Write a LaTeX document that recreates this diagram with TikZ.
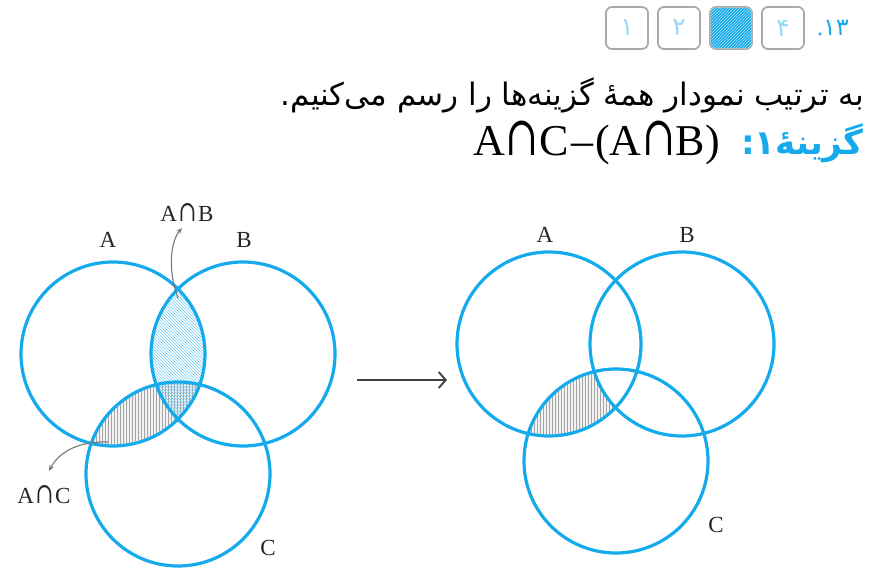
\documentclass[tikz,border=0pt]{standalone}
\usepackage{fontspec}
\usepackage{graphicx}
\setmainfont{Liberation Serif}
\newfontfamily\arabicfont[Script=Arabic]{DejaVu Sans}
\newfontfamily\capfont{DejaVu Serif}
\newcommand\tcap{\kern0.06em\raisebox{0pt}{\scalebox{0.95}[1.25]{\capfont ∩}}\kern0.06em}
\newcommand\tcapx{\kern0.01em\raisebox{0pt}{\scalebox{0.9}[1.25]{\capfont ∩}}\kern0.01em}
\TeXXeTstate=1
\usetikzlibrary{patterns,arrows.meta}
\definecolor{vcyan}{RGB}{20,170,235}
\definecolor{hatchgray}{RGB}{165,165,165}
\definecolor{arrowgray}{RGB}{120,120,120}
\definecolor{boxgray}{RGB}{170,170,170}
\begin{document}
\begin{tikzpicture}[x=1pt,y=-1pt,
  setc/.style={draw=vcyan,line width=3.2pt},
  lbl/.style={font=\fontsize{23}{25}\selectfont, inner sep=0pt, text=black!85},
  pointer/.style={draw=arrowgray, line width=1.1pt, -{Stealth[length=6pt,width=5pt]}},
  optbox/.style={draw=boxgray, line width=1.8pt, rounded corners=6pt, minimum size=42pt, inner sep=0pt, text=vcyan!45, font=\arabicfont\fontsize{25}{26}\selectfont},
  bigarrow/.style={draw=black!75, line width=1.9pt, -{Straight Barb[length=7pt,width=16pt,line width=1.9pt]}}
]
\useasboundingbox (0,0) rectangle (873,580);

% ---------- header ----------
\node[optbox] (o1) at (627,28) {۱};
\node[optbox] (o2) at (679,28) {۲};
\node[optbox, fill=vcyan, postaction={pattern=north east lines, pattern color=white!65!vcyan}] (o3) at (731,28) {};
\node[optbox] (o4) at (783,28) {۴};
\node[text=vcyan, font=\fontsize{24}{26}\selectfont, anchor=east, inner sep=0pt] (num) at (849,28) {.\arabicfont ۱۳};

\node[anchor=east, inner sep=0pt, font=\arabicfont\fontsize{31}{34}\selectfont] (line2) at (864,95)
  {\beginR به ترتیب نمودار همهٔ گزینه‌ها را رسم می‌کنیم.\endR};
\node[anchor=east, inner sep=0pt, text=vcyan, font=\arabicfont\bfseries\fontsize{34}{36}\selectfont] (opt) at (864,143)
  {\beginR گزینهٔ۱:\endR};
\node[anchor=east, inner sep=0pt, font=\fontsize{44}{48}\selectfont] (expr) at (720,143)
  {A\tcapx C\kern0.05em–\kern0.05em(A\tcapx B)};

% ---------- left diagram ----------
\coordinate (LA) at (113,354);
\coordinate (LB) at (243,354);
\coordinate (LC) at (178,474);

\begin{scope}
  \clip (LA) circle[radius=92pt];
  \clip (LC) circle[radius=92pt];
  \fill[gray!10] (LC) circle[radius=92pt];
  \fill[pattern=vertical lines, pattern color=hatchgray] (LC) circle[radius=92pt];
\end{scope}
\begin{scope}
  \clip (LA) circle[radius=92pt];
  \clip (LB) circle[radius=92pt];
  \fill[pattern=north west lines, pattern color=vcyan!60] (LB) circle[radius=92pt];
\end{scope}

\draw[setc] (LA) circle[radius=92pt];
\draw[setc] (LB) circle[radius=92pt];
\draw[setc] (LC) circle[radius=92pt];

\node[lbl] (lA) at (108,240) {A};
\node[lbl] (lB) at (244,240) {B};
\node[lbl] (lC) at (268,548) {C};
\node[lbl] (lAB) at (187,213) {A\tcap B};
\node[lbl] (lAC) at (44,495) {A\tcap C};

\coordinate (pAB) at (178,298);
\coordinate (tAB) at (182,228);
\draw[pointer] (pAB) .. controls (168,272) and (170,242) .. (tAB);
\coordinate (pAC) at (108,442);
\coordinate (tAC) at (49,471);
\draw[pointer] (pAC) .. controls (82,441) and (60,450) .. (tAC);

% ---------- arrow ----------
\coordinate (arrS) at (357,380);
\coordinate (arrE) at (447,380);
\draw[bigarrow] (arrS) -- (arrE);

% ---------- right diagram ----------
\coordinate (RA) at (549,344);
\coordinate (RB) at (682,344);
\coordinate (RC) at (616,461);

\begin{scope}
  \clip (RA) circle[radius=92pt];
  \clip (RC) circle[radius=92pt];
  \fill[gray!10] (RC) circle[radius=92pt];
  \fill[pattern=vertical lines, pattern color=hatchgray] (RC) circle[radius=92pt];
  \fill[white] (RB) circle[radius=92pt];
\end{scope}

\draw[setc] (RA) circle[radius=92pt];
\draw[setc] (RB) circle[radius=92pt];
\draw[setc] (RC) circle[radius=92pt];

\node[lbl] (rA) at (545,235) {A};
\node[lbl] (rB) at (687,235) {B};
\node[lbl] (rC) at (716,525) {C};
\end{tikzpicture}
\end{document}
